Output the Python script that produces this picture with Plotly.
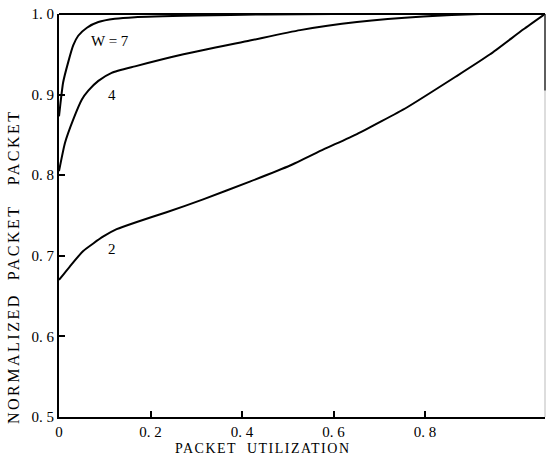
import plotly.graph_objects as go

# ---- data ----
x_w7 = [0, 0.009, 0.020, 0.031, 0.042, 0.061, 0.086, 0.122, 0.166, 0.30, 0.45, 0.60, 1.062]
y_w7 = [0.873, 0.915, 0.940, 0.961, 0.973, 0.983, 0.990, 0.994, 0.996, 0.998, 0.9995, 1.0, 1.0]

x_w4 = [0, 0.013, 0.031, 0.050, 0.064, 0.086, 0.115, 0.166, 0.272, 0.417, 0.527, 0.651, 0.796, 0.92, 1.062]
y_w4 = [0.805, 0.840, 0.869, 0.894, 0.905, 0.917, 0.927, 0.935, 0.950, 0.967, 0.980, 0.990, 0.997, 1.0, 1.0]

x_w2 = [0, 0.024, 0.053, 0.097, 0.126, 0.170, 0.235, 0.315, 0.417, 0.505, 0.578, 0.651,
        0.760, 0.869, 0.942, 1.015, 1.062]
y_w2 = [0.670, 0.687, 0.706, 0.724, 0.733, 0.742, 0.754, 0.770, 0.792, 0.812, 0.832, 0.851,
        0.884, 0.923, 0.950, 0.981, 1.0]

curve_labels = ["W = 7", "4", "2"]
label_x = [0.111, 0.115, 0.115]
label_y = [0.967, 0.900, 0.708]

x_tickvals = [0, 0.2, 0.4, 0.6, 0.8]
x_ticktext = ["0", "0. 2", "0. 4", "0. 6", "0. 8"]
y_tickvals = [0.5, 0.6, 0.7, 0.8, 0.9, 1.0]
y_ticktext = ["0. 5", "0. 6", "0. 7", "0. 8", "0. 9", "1. 0"]

FONT = "Liberation Serif, Times New Roman, serif"

fig = go.Figure()
for xs, ys in [(x_w7, y_w7), (x_w4, y_w4), (x_w2, y_w2)]:
    fig.add_trace(go.Scatter(x=xs, y=ys, mode="lines",
                             line=dict(color="black", width=2, shape="spline", smoothing=0.5),
                             showlegend=False, hoverinfo="skip"))

for t, xx, yy in zip(curve_labels, label_x, label_y):
    fig.add_annotation(x=xx, y=yy, text=t, showarrow=False,
                       font=dict(family=FONT, size=15, color="black"))

# axis titles placed as annotations (offset as in the reference)
fig.add_annotation(xref="paper", yref="paper", x=(263 - 59) / 486, y=-(448 - 417) / 403,
                   text='<span style="letter-spacing:1.5px">PACKET  UTILIZATION</span>',
                   showarrow=False, xanchor="center", yanchor="middle",
                   font=dict(family=FONT, size=14, color="black"))
fig.add_annotation(xref="paper", yref="paper", x=(13 - 59) / 486, y=(417 - 267) / 403,
                   text='<span style="letter-spacing:2.5px">NORMALIZED  PACKET   PACKET</span>',
                   showarrow=False, textangle=-90,
                   xanchor="center", yanchor="middle",
                   font=dict(family=FONT, size=16, color="black"))

# faint right border
fig.add_shape(type="line", xref="paper", yref="paper", x0=1, x1=1, y0=0, y1=1,
              line=dict(color="#bbbbbb", width=1))
fig.add_shape(type="line", xref="paper", yref="paper", x0=1, x1=1, y0=0.81, y1=1,
              line=dict(color="#333333", width=1.5))

fig.update_xaxes(range=[0, 1.062], tickvals=x_tickvals, ticktext=x_ticktext,
                 ticks="inside", ticklen=6, tickwidth=1.5, tickcolor="black",
                 showline=True, linecolor="black", linewidth=2, mirror=False,
                 showgrid=False, zeroline=False,
                 tickfont=dict(family=FONT, size=15, color="black"))
fig.update_yaxes(range=[0.5, 1.0], tickvals=y_tickvals, ticktext=y_ticktext,
                 ticks="inside", ticklen=6, tickwidth=1.5, tickcolor="black",
                 showline=True, linecolor="black", linewidth=2,
                 showgrid=False, zeroline=False,
                 tickfont=dict(family=FONT, size=15, color="black"))
# top border
fig.add_shape(type="line", xref="paper", yref="paper", x0=0, x1=1, y0=1, y1=1,
              line=dict(color="black", width=2))

fig.update_layout(width=547, height=462,
                  margin=dict(l=59, r=2, t=14, b=45),
                  plot_bgcolor="white", paper_bgcolor="white")

fig.write_html("out.html", config={"displayModeBar": False},
               post_script="document.body.style.margin='0';document.body.style.overflow='hidden';")
